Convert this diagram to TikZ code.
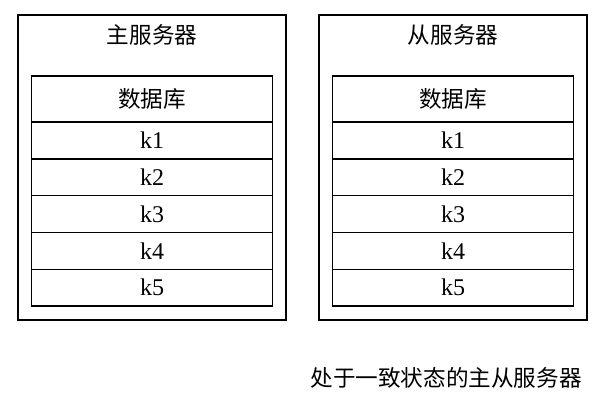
\documentclass[tikz,border=0pt]{standalone}
\usepackage{fontspec}
\setmainfont{Liberation Serif}
\newfontfamily\cjk{Noto Sans CJK SC}
\usetikzlibrary{positioning}
\tikzset{
  server/.style={draw, line width=0.7pt, minimum width=134pt, minimum height=152.5pt, inner sep=0pt},
  dbrow/.style={draw, line width=0.7pt, minimum width=120.5pt, minimum height=18.4pt, inner sep=0pt, font=\fontsize{12}{14}\selectfont},
  dbhead/.style={dbrow, minimum height=23pt, font=\cjk\fontsize{11.3}{13}\selectfont},
  label/.style={font=\cjk\fontsize{11.3}{13}\selectfont, inner sep=0pt}
}
\begin{document}
\begin{tikzpicture}[x=0.5pt,y=-0.5pt]
\useasboundingbox (0,0) rectangle (604,404);

\foreach \cx/\nm/\title in {152/master/主服务器, 453/slave/从服务器}{
  \node [server] (\nm) at (\cx,167.5) {};
  \node [label] (\nm-title) at (\cx,35) {\title};
  \node [dbhead] (\nm-db) at (\cx,99) {数据库};
  \foreach \i in {1,...,5}
    \node [dbrow] (\nm-k\i) at (\cx,{122+36.8*(\i-0.5)}) {k\i};
}

\node [label] (caption) at (446,378) {处于一致状态的主从服务器};
\end{tikzpicture}
\end{document}
